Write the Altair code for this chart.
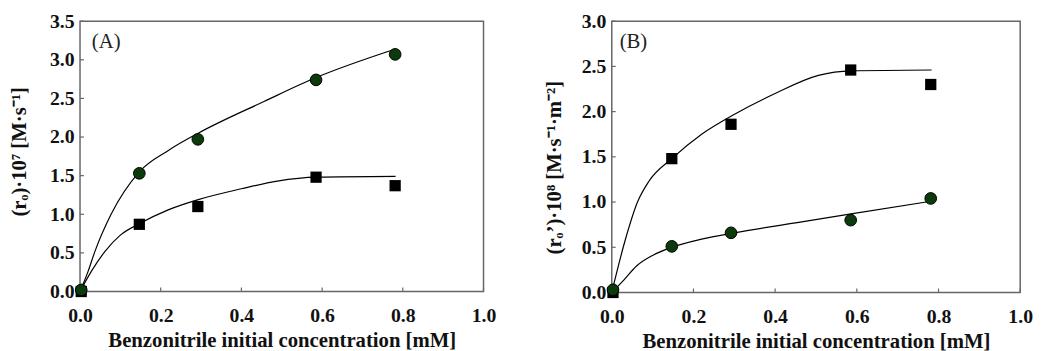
import altair as alt
import pandas as pd

# ---- data ----
conc = [0.003, 0.147, 0.292, 0.585, 0.781]

# Panel A  (r_o x 10^7)
a_circle = [0.02, 1.53, 1.97, 2.74, 3.07]
a_square = [0.0, 0.87, 1.10, 1.48, 1.37]
a_fit_circle_x = [0, 0.02, 0.037, 0.077, 0.147, 0.22, 0.293, 0.456, 0.585, 0.782]
a_fit_circle_y = [0, 0.26, 0.52, 1.00, 1.55, 1.83, 2.05, 2.46, 2.77, 3.14]
a_fit_square_x = [0, 0.028, 0.062, 0.10, 0.148, 0.22, 0.293, 0.40, 0.489, 0.587, 0.782]
a_fit_square_y = [0, 0.26, 0.52, 0.73, 0.88, 1.06, 1.19, 1.33, 1.43, 1.48, 1.49]

# Panel B  (r_o' x 10^8)
b_square = [0.0, 1.48, 1.86, 2.46, 2.30]
b_circle = [0.03, 0.51, 0.66, 0.80, 1.04]
b_fit_square_x = [0, 0.033, 0.063, 0.091, 0.147, 0.22, 0.304, 0.40, 0.506, 0.586, 0.783]
b_fit_square_y = [0, 0.58, 1.00, 1.23, 1.48, 1.75, 1.98, 2.20, 2.40, 2.45, 2.46]
b_fit_circle_x = [0, 0.03, 0.06, 0.10, 0.147, 0.22, 0.30, 0.45, 0.586, 0.783]
b_fit_circle_y = [0, 0.14, 0.29, 0.41, 0.50, 0.59, 0.66, 0.77, 0.87, 1.01]

x_ticks = [0.0, 0.2, 0.4, 0.6, 0.8, 1.0]
a_y_ticks = [0.0, 0.5, 1.0, 1.5, 2.0, 2.5, 3.0, 3.5]
b_y_ticks = [0.0, 0.5, 1.0, 1.5, 2.0, 2.5, 3.0]

x_title = "Benzonitrile initial concentration [mM]"
a_y_title = "(r\u2092)\u00b710\u2077  [M\u00b7s\u207b\u00b9]"
b_y_title = "(r\u2092\u2019)\u00b710\u2078 [M\u00b7s\u207b\u00b9\u00b7m\u207b\u00b2]"

FONT = "Liberation Serif"
FRAME = "#666666"
GREEN = "#0b3a0b"


def panel(circ, sq, fcx, fcy, fsx, fsy, yticks, ytitle, ytitle_x, ytitle_y,
          label, label_x, W, H):
    ymax = yticks[-1]
    xenc = alt.X("x:Q", scale=alt.Scale(domain=[0, 1], nice=False),
                 axis=alt.Axis(values=x_ticks, format=".1f", title=x_title,
                               grid=False, domain=False, ticks=False, labelFlush=False,
                               labelPadding=14, titlePadding=5))
    yenc = alt.Y("y:Q", scale=alt.Scale(domain=[0, ymax], nice=False),
                 axis=alt.Axis(values=yticks, format=".1f", title=ytitle,
                               grid=False, domain=False, ticks=False, labelFlush=False,
                               labelPadding=6, titleX=ytitle_x, titleY=ytitle_y,
                               titleBaseline="top", titleAlign="center", titleAngle=270,
                               minExtent=40, maxExtent=40))
    pts = pd.DataFrame({"x": conc * 2, "y": circ + sq,
                        "s": ["circle"] * len(circ) + ["square"] * len(sq)})
    fit = pd.DataFrame({"x": fcx + fsx, "y": fcy + fsy,
                        "c": ["c"] * len(fcx) + ["s"] * len(fsx)})
    xt = pd.DataFrame({"x": x_ticks})
    yt = pd.DataFrame({"y": yticks})

    lines = alt.Chart(fit).mark_line(color="black", strokeWidth=1.2,
                                     interpolate="monotone").encode(x=xenc, y=yenc, detail="c:N")
    squares = alt.Chart(pts[pts.s == "square"]).mark_square(
        size=130, color="black", opacity=1).encode(x=xenc, y=yenc)
    circles = alt.Chart(pts[pts.s == "circle"]).mark_point(
        shape="circle", filled=True, fill=GREEN, stroke="black", strokeWidth=1,
        size=140, opacity=1).encode(x=xenc, y=yenc)
    xtk = alt.Chart(xt).mark_rule(color=FRAME, strokeWidth=1.2).encode(
        x=xenc, y=alt.value(H), y2=alt.value(H - 4))
    ytk = alt.Chart(yt).mark_rule(color=FRAME, strokeWidth=1.2).encode(
        y=yenc, x=alt.value(0), x2=alt.value(4))
    lab = alt.Chart(pd.DataFrame({"t": [label]})).mark_text(
        font=FONT, fontSize=21, align="left", baseline="middle", color="#222"
    ).encode(text="t:N", x=alt.value(label_x), y=alt.value(21))
    return alt.layer(lines, xtk, ytk, squares, circles, lab).properties(width=W, height=H)


pa = panel(a_circle, a_square, a_fit_circle_x, a_fit_circle_y,
           a_fit_square_x, a_fit_square_y, a_y_ticks, a_y_title, -72, 132,
           "(A)", 12, 409, 274)
pb = panel(b_circle, b_square, b_fit_circle_x, b_fit_circle_y,
           b_fit_square_x, b_fit_square_y, b_y_ticks, b_y_title, -69, 148,
           "(B)", 8, 414, 275)

chart = alt.hconcat(pa, pb, spacing=46).properties(
    padding={"left": 0, "top": 0, "right": 0, "bottom": 0}
).configure_view(stroke=FRAME, strokeWidth=1.5).configure_axis(
    labelFont=FONT, labelFontWeight="bold", labelFontSize=20, labelColor="#111",
    titleFont=FONT, titleFontWeight="bold", titleFontSize=21, titleColor="#111"
)

chart.save("out.html", embed_options={"renderer": "svg", "actions": False})
